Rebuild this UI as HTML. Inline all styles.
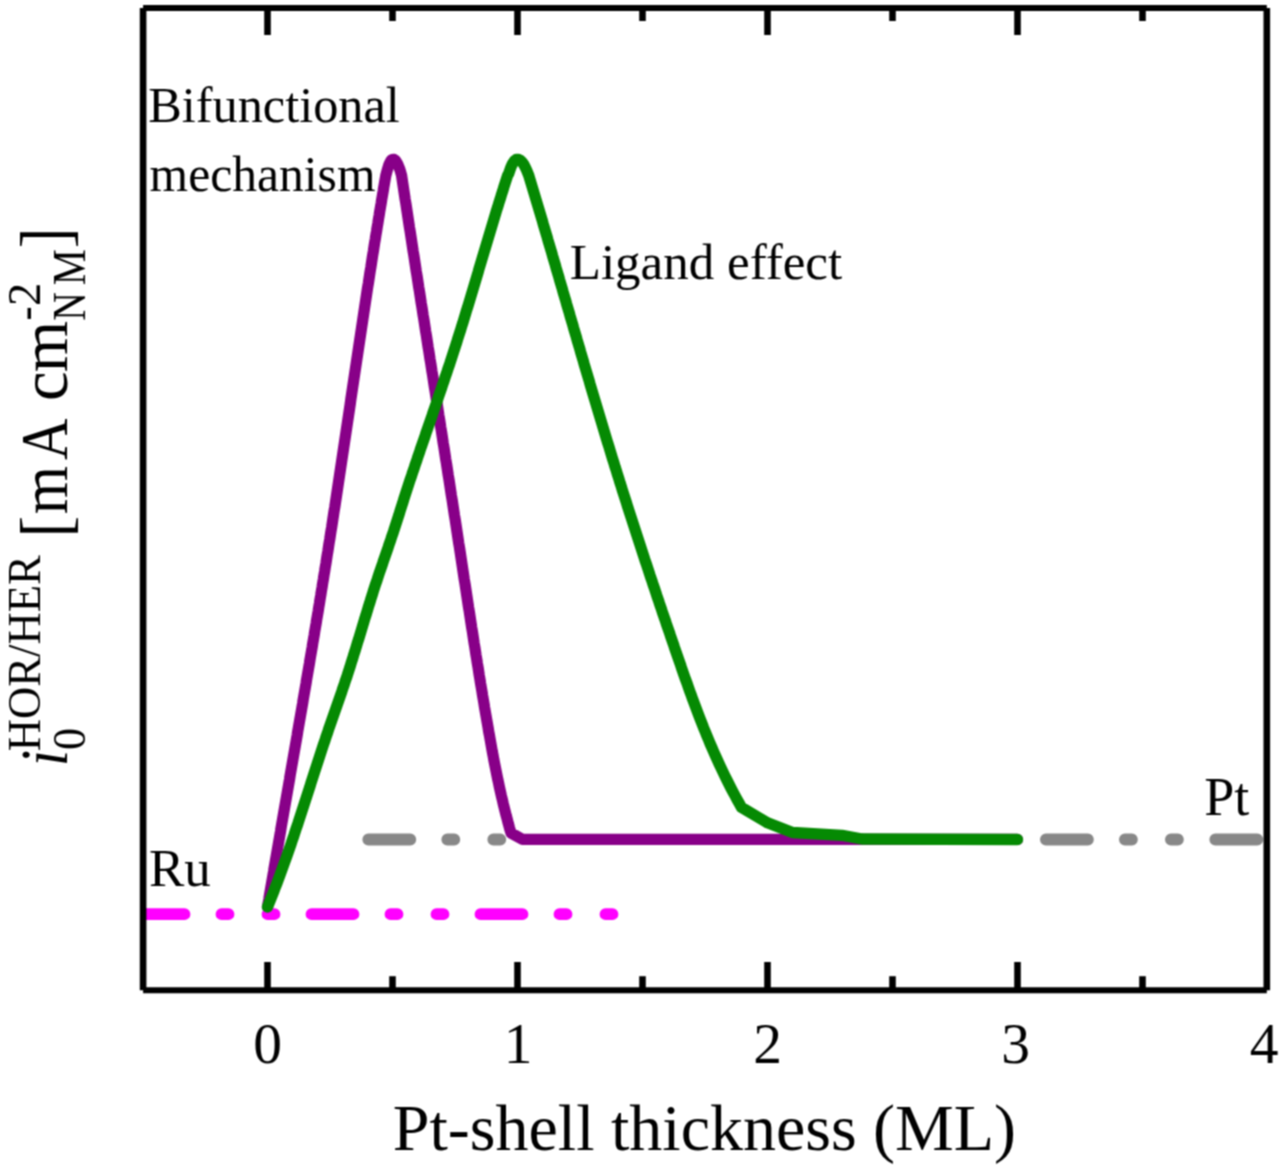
<!DOCTYPE html>
<html><head><meta charset="utf-8"><style>
html,body{margin:0;padding:0;background:#fff;}
svg{display:block;}
#w{width:1280px;height:1170px;}
text{font-family:"Liberation Serif",serif;fill:#000;}
</style></head><body><div id="w">
<svg width="1280" height="1170" viewBox="0 0 1280 1170">
<defs>
<filter id="bl" x="0" y="0" width="1280" height="1170" filterUnits="userSpaceOnUse" color-interpolation-filters="sRGB"><feConvolveMatrix order="3" kernelMatrix="1 2 1 2 4 2 1 2 1" divisor="16" edgeMode="duplicate"/></filter>
<clipPath id="pa"><rect x="143" y="8" width="1124" height="982"/></clipPath>
<clipPath id="gc"><rect x="143" y="800" width="368" height="80"/><rect x="1025" y="800" width="260" height="80"/></clipPath>
</defs>
<g filter="url(#bl)"><rect width="1280" height="1170" fill="#fff"/>
<g clip-path="url(#pa)" fill="none" stroke-width="11.3" stroke-linecap="round" stroke-linejoin="round">
<g clip-path="url(#gc)"><line x1="368.3" y1="839.5" x2="1300" y2="839.5" stroke-width="11.8" stroke="#888" stroke-dasharray="42 37 7 39 7 37.4"/></g>
<polyline points="267.5,907.0 268.1,903.6 268.8,899.6 269.4,895.6 270.1,891.6 270.8,887.6 271.5,883.6 272.2,879.6 272.9,875.6 273.6,871.6 274.2,867.6 274.9,863.6 275.6,859.6 276.3,855.6 277.0,851.6 277.7,847.6 278.4,843.6 279.1,839.6 279.8,835.6 280.5,831.6 281.1,827.6 281.8,823.6 282.5,819.6 283.2,815.6 283.9,811.6 284.6,807.6 285.3,803.6 286.0,799.6 286.7,795.6 287.4,791.6 288.1,787.6 288.8,783.6 289.5,779.6 290.1,775.6 290.8,771.6 291.5,767.6 292.2,763.6 292.9,759.6 293.6,755.6 294.3,751.6 295.0,747.6 295.7,743.6 296.4,739.6 297.1,735.6 297.7,731.6 298.4,727.6 299.1,723.6 299.8,719.6 300.5,715.6 301.2,711.6 301.9,707.6 302.6,703.6 303.2,699.6 303.9,695.6 304.6,691.6 305.3,687.6 306.0,683.6 306.6,679.6 307.3,675.6 308.0,671.6 308.7,667.6 309.4,663.6 310.0,659.6 310.7,655.6 311.4,651.6 312.1,647.6 312.7,643.6 313.4,639.6 314.1,635.6 314.7,631.6 315.4,627.6 316.1,623.6 316.7,619.6 317.4,615.6 318.1,611.6 318.7,607.6 319.4,603.6 320.0,599.6 320.7,595.6 321.3,591.6 322.0,587.6 322.6,583.6 323.3,579.6 323.9,575.6 324.6,571.6 325.2,567.6 325.9,563.6 326.5,559.6 327.1,555.6 327.8,551.6 328.4,547.6 329.0,543.6 329.7,539.6 330.3,535.6 330.9,531.6 331.6,527.6 332.2,523.6 332.8,519.6 333.4,515.6 334.0,511.6 334.7,507.6 335.3,503.6 335.9,499.6 336.5,495.6 337.1,491.6 337.7,487.6 338.3,483.6 338.9,479.6 339.5,475.6 340.1,471.6 340.7,467.6 341.3,463.6 341.9,459.6 342.5,455.6 343.1,451.6 343.7,447.6 344.3,443.6 344.9,439.6 345.5,435.6 346.1,431.6 346.7,427.6 347.3,423.6 347.9,419.6 348.5,415.6 349.1,411.6 349.7,407.6 350.3,403.6 350.8,399.6 351.4,395.6 352.0,391.6 352.6,387.6 353.2,383.6 353.8,379.6 354.4,375.6 355.0,371.6 355.6,367.6 356.2,363.6 356.8,359.6 357.4,355.6 358.0,351.6 358.6,347.6 359.2,343.6 359.8,339.6 360.4,335.6 361.0,331.6 361.6,327.6 362.2,323.6 362.8,319.6 363.4,315.6 364.0,311.6 364.6,307.6 365.2,303.6 365.8,299.6 366.4,295.6 367.0,291.6 367.6,287.6 368.3,283.6 368.9,279.6 369.5,275.6 370.1,271.6 370.8,267.6 371.4,263.6 372.0,259.6 372.6,255.6 373.3,251.6 373.9,247.6 374.5,243.6 375.2,239.6 375.8,235.6 376.5,231.6 377.1,227.6 377.8,223.6 378.4,219.6 379.1,215.6 379.7,211.6 380.4,207.6 381.1,203.6 381.7,199.6 382.4,195.6 383.1,191.6 383.7,187.6 384.4,183.6 385.1,179.6 385.8,175.6 386.3,173.8 387.2,170.3 388.1,167.3 388.9,164.8 389.8,162.8 390.6,161.3 391.3,160.3 392.1,159.6 393.1,159.3 394.3,159.6 395.2,160.3 396.1,161.3 397.0,162.8 398.0,164.8 399.0,167.3 400.1,170.3 401.1,173.8 401.6,175.6 402.2,179.6 402.8,183.6 403.4,187.6 404.0,191.6 404.6,195.6 405.2,199.6 405.9,203.6 406.5,207.6 407.1,211.6 407.7,215.6 408.3,219.6 408.9,223.6 409.5,227.6 410.2,231.6 410.8,235.6 411.4,239.6 412.0,243.6 412.6,247.6 413.2,251.6 413.9,255.6 414.5,259.6 415.1,263.6 415.7,267.6 416.3,271.6 417.0,275.6 417.6,279.6 418.2,283.6 418.8,287.6 419.5,291.6 420.1,295.6 420.7,299.6 421.3,303.6 422.0,307.6 422.6,311.6 423.2,315.6 423.9,319.6 424.5,323.6 425.1,327.6 425.7,331.6 426.4,335.6 427.0,339.6 427.6,343.6 428.2,347.6 428.9,351.6 429.5,355.6 430.1,359.6 430.8,363.6 431.4,367.6 432.0,371.6 432.7,375.6 433.3,379.6 433.9,383.6 434.5,387.6 435.2,391.6 435.8,395.6 436.4,399.6 437.1,403.6 437.7,407.6 438.3,411.6 438.9,415.6 439.6,419.6 440.2,423.6 440.8,427.6 441.5,431.6 442.1,435.6 442.7,439.6 443.3,443.6 444.0,447.6 444.6,451.6 445.2,455.6 445.8,459.6 446.5,463.6 447.1,467.6 447.7,471.6 448.3,475.6 449.0,479.6 449.6,483.6 450.2,487.6 450.8,491.6 451.4,495.6 452.1,499.6 452.7,503.6 453.3,507.6 453.9,511.6 454.5,515.6 455.2,519.6 455.8,523.6 456.4,527.6 457.0,531.6 457.6,535.6 458.2,539.6 458.8,543.6 459.5,547.6 460.1,551.6 460.7,555.6 461.3,559.6 461.9,563.6 462.5,567.6 463.1,571.6 463.7,575.6 464.3,579.6 465.0,583.6 465.6,587.6 466.2,591.6 466.8,595.6 467.4,599.6 468.0,603.6 468.6,607.6 469.3,611.6 469.9,615.6 470.5,619.6 471.1,623.6 471.7,627.6 472.4,631.6 473.0,635.6 473.6,639.6 474.2,643.6 474.9,647.6 475.5,651.6 476.1,655.6 476.8,659.6 477.4,663.6 478.1,667.6 478.7,671.6 479.3,675.6 480.0,679.6 480.6,683.6 481.3,687.6 482.0,691.6 482.6,695.6 483.3,699.6 484.0,703.6 484.6,707.6 485.3,711.6 486.0,715.6 486.7,719.6 487.4,723.6 488.1,727.6 488.7,731.6 489.5,735.6 490.2,739.6 490.9,743.6 491.6,747.6 492.3,751.6 493.1,755.6 493.8,759.6 494.6,763.6 495.4,767.6 496.2,771.6 497.0,775.6 497.8,779.6 498.7,783.6 499.5,787.6 500.4,791.6 501.3,795.6 502.3,799.6 503.2,803.6 504.2,807.6 505.2,811.6 506.2,815.6 507.3,819.6 508.3,823.6 509.4,827.6 510.6,831.6 511.0,833.0 522.5,839.4 1017.5,839.4" stroke="#880088"/>
<line x1="142.5" y1="914.2" x2="614" y2="914.2" stroke-width="11.8" stroke="#ff00ff" stroke-dasharray="42 37 7 39 7 37"/>
<polyline points="267.5,907.0 268.9,903.6 270.5,899.6 272.1,895.6 273.7,891.6 275.2,887.6 276.8,883.6 278.3,879.6 279.8,875.6 281.2,871.6 282.7,867.6 284.1,863.6 285.6,859.6 287.0,855.6 288.4,851.6 289.8,847.6 291.2,843.6 292.5,839.6 293.9,835.6 295.2,831.6 296.5,827.6 297.9,823.6 299.2,819.6 300.5,815.6 301.8,811.6 303.1,807.6 304.4,803.6 305.7,799.6 307.0,795.6 308.3,791.6 309.6,787.6 310.8,783.6 312.1,779.6 313.4,775.6 314.7,771.6 316.0,767.6 317.3,763.6 318.6,759.6 319.9,755.6 321.2,751.6 322.5,747.6 323.8,743.6 325.2,739.6 326.5,735.6 327.9,731.6 329.2,727.6 330.6,723.6 332.0,719.6 333.4,715.6 334.8,711.6 336.2,707.6 337.6,703.6 339.0,699.6 340.4,695.6 341.8,691.6 343.1,687.6 344.5,683.6 345.8,679.6 347.2,675.6 348.5,671.6 349.8,667.6 351.0,663.6 352.3,659.6 353.5,655.6 354.8,651.6 356.0,647.6 357.2,643.6 358.5,639.6 359.7,635.6 360.9,631.6 362.1,627.6 363.3,623.6 364.5,619.6 365.8,615.6 367.0,611.6 368.2,607.6 369.5,603.6 370.7,599.6 372.0,595.6 373.2,591.6 374.5,587.6 375.8,583.6 377.2,579.6 378.5,575.6 379.8,571.6 381.2,567.6 382.6,563.6 383.9,559.6 385.3,555.6 386.7,551.6 388.1,547.6 389.4,543.6 390.8,539.6 392.1,535.6 393.5,531.6 394.8,527.6 396.1,523.6 397.4,519.6 398.7,515.6 399.9,511.6 401.2,507.6 402.5,503.6 403.7,499.6 405.0,495.6 406.3,491.6 407.6,487.6 408.9,483.6 410.2,479.6 411.6,475.6 412.9,471.6 414.3,467.6 415.6,463.6 417.0,459.6 418.3,455.6 419.7,451.6 421.0,447.6 422.4,443.6 423.8,439.6 425.2,435.6 426.5,431.6 427.9,427.6 429.3,423.6 430.7,419.6 432.1,415.6 433.4,411.6 434.8,407.6 436.2,403.6 437.6,399.6 438.9,395.6 440.3,391.6 441.7,387.6 443.0,383.6 444.4,379.6 445.7,375.6 447.1,371.6 448.4,367.6 449.8,363.6 451.1,359.6 452.4,355.6 453.7,351.6 455.0,347.6 456.3,343.6 457.5,339.6 458.8,335.6 460.1,331.6 461.3,327.6 462.6,323.6 463.8,319.6 465.0,315.6 466.2,311.6 467.5,307.6 468.7,303.6 469.9,299.6 471.1,295.6 472.3,291.6 473.5,287.6 474.7,283.6 475.9,279.6 477.1,275.6 478.3,271.6 479.4,267.6 480.6,263.6 481.8,259.6 483.0,255.6 484.2,251.6 485.4,247.6 486.6,243.6 487.8,239.6 489.0,235.6 490.2,231.6 491.4,227.6 492.6,223.6 493.8,219.6 495.0,215.6 496.2,211.6 497.5,207.6 498.7,203.6 500.0,199.6 501.2,195.6 502.5,191.6 503.7,187.6 505.0,183.6 506.3,179.6 507.6,175.6 508.6,173.8 509.8,170.3 510.9,167.3 512.0,164.8 513.1,162.8 514.1,161.3 515.1,160.3 516.1,159.6 517.4,159.3 518.9,159.6 520.2,160.3 521.4,161.3 522.6,162.8 524.0,164.8 525.3,167.3 526.7,170.3 528.1,173.8 528.8,175.6 530.0,179.6 531.2,183.6 532.4,187.6 533.6,191.6 534.8,195.6 536.0,199.6 537.2,203.6 538.4,207.6 539.6,211.6 540.8,215.6 542.0,219.6 543.1,223.6 544.3,227.6 545.5,231.6 546.7,235.6 547.8,239.6 549.0,243.6 550.2,247.6 551.4,251.6 552.5,255.6 553.7,259.6 554.9,263.6 556.0,267.6 557.2,271.6 558.4,275.6 559.5,279.6 560.7,283.6 561.9,287.6 563.0,291.6 564.2,295.6 565.4,299.6 566.5,303.6 567.7,307.6 568.9,311.6 570.0,315.6 571.2,319.6 572.4,323.6 573.5,327.6 574.7,331.6 575.9,335.6 577.0,339.6 578.2,343.6 579.4,347.6 580.5,351.6 581.7,355.6 582.9,359.6 584.0,363.6 585.2,367.6 586.4,371.6 587.6,375.6 588.8,379.6 589.9,383.6 591.1,387.6 592.3,391.6 593.5,395.6 594.7,399.6 595.9,403.6 597.1,407.6 598.3,411.6 599.5,415.6 600.7,419.6 601.9,423.6 603.1,427.6 604.3,431.6 605.5,435.6 606.7,439.6 607.9,443.6 609.2,447.6 610.4,451.6 611.6,455.6 612.8,459.6 614.1,463.6 615.3,467.6 616.6,471.6 617.8,475.6 619.1,479.6 620.3,483.6 621.6,487.6 622.8,491.6 624.1,495.6 625.4,499.6 626.7,503.6 627.9,507.6 629.2,511.6 630.5,515.6 631.8,519.6 633.1,523.6 634.4,527.6 635.7,531.6 637.0,535.6 638.3,539.6 639.6,543.6 640.9,547.6 642.2,551.6 643.5,555.6 644.8,559.6 646.2,563.6 647.5,567.6 648.8,571.6 650.1,575.6 651.5,579.6 652.8,583.6 654.2,587.6 655.5,591.6 656.8,595.6 658.2,599.6 659.5,603.6 660.9,607.6 662.2,611.6 663.6,615.6 665.0,619.6 666.3,623.6 667.7,627.6 669.1,631.6 670.4,635.6 671.8,639.6 673.2,643.6 674.5,647.6 675.9,651.6 677.3,655.6 678.7,659.6 680.1,663.6 681.4,667.6 682.8,671.6 684.2,675.6 685.6,679.6 687.1,683.6 688.5,687.6 689.9,691.6 691.4,695.6 692.8,699.6 694.3,703.6 695.8,707.6 697.3,711.6 698.8,715.6 700.4,719.6 702.0,723.6 703.5,727.6 705.2,731.6 706.8,735.6 708.5,739.6 710.1,743.6 711.9,747.6 713.6,751.6 715.4,755.6 717.2,759.6 719.0,763.6 720.9,767.6 722.8,771.6 724.7,775.6 726.7,779.6 728.7,783.6 730.7,787.6 732.8,791.6 735.0,795.6 737.1,799.6 739.4,803.6 741.5,807.4 767.5,822.8 792.5,832.5 842.0,835.3 862.0,839.0 1017.5,839.5" stroke="#058a03"/>
</g>
<g stroke="#000" stroke-width="6.6" fill="none">
<line x1="267.5" y1="990" x2="267.5" y2="962"/><line x1="267.5" y1="8" x2="267.5" y2="35"/><line x1="517.5" y1="990" x2="517.5" y2="962"/><line x1="517.5" y1="8" x2="517.5" y2="35"/><line x1="767.5" y1="990" x2="767.5" y2="962"/><line x1="767.5" y1="8" x2="767.5" y2="35"/><line x1="1017.5" y1="990" x2="1017.5" y2="962"/><line x1="1017.5" y1="8" x2="1017.5" y2="35"/><line x1="392.5" y1="990" x2="392.5" y2="976.2"/><line x1="392.5" y1="8" x2="392.5" y2="21"/><line x1="642.5" y1="990" x2="642.5" y2="976.2"/><line x1="642.5" y1="8" x2="642.5" y2="21"/><line x1="892.5" y1="990" x2="892.5" y2="976.2"/><line x1="892.5" y1="8" x2="892.5" y2="21"/><line x1="1142.5" y1="990" x2="1142.5" y2="976.2"/><line x1="1142.5" y1="8" x2="1142.5" y2="21"/>
<line x1="143.1" y1="8" x2="143.1" y2="990.3"/>
<line x1="1266.8" y1="8" x2="1266.8" y2="990.3"/>
<line x1="143.1" y1="8" x2="1266.8" y2="8" stroke-width="6"/>
<line x1="143.1" y1="990.3" x2="1266.8" y2="990.3" stroke-width="6"/>
</g>
<text x="148.3" y="122.1" font-size="50.3">Bifunctional</text>
<text x="149.6" y="190.5" font-size="49.6">mechanism</text>
<text x="569.8" y="278.7" font-size="51">Ligand effect</text>
<text x="148.9" y="886.1" font-size="53">Ru</text>
<text x="1204.3" y="814.7" font-size="54">Pt</text>
<g font-size="57.5" text-anchor="middle">
<text x="267.5" y="1063">0</text>
<text x="518" y="1063">1</text>
<text x="767.5" y="1063">2</text>
<text x="1015.5" y="1063">3</text>
<text x="1264" y="1063">4</text>
</g>
<text x="392.8" y="1149.8" font-size="66">Pt-shell thickness (ML)</text>
<g transform="translate(67,763) rotate(-90)">
<text x="-3.3" y="0" font-size="67" textLength="16.4" lengthAdjust="spacingAndGlyphs" style="font-style:italic;">i</text>
<text x="12.9" y="18" font-size="46.5" textLength="22.1" lengthAdjust="spacingAndGlyphs" style="">0</text>
<text x="11.8" y="-26.8" font-size="46.7" textLength="195.9" lengthAdjust="spacingAndGlyphs" style="">HOR/HER</text>
<text x="225.6" y="2" font-size="70" textLength="21.7" lengthAdjust="spacingAndGlyphs" style="">[</text>
<text x="248.7" y="0" font-size="67" textLength="48.3" lengthAdjust="spacingAndGlyphs" style="">m</text>
<text x="302.9" y="0" font-size="67" textLength="41.5" lengthAdjust="spacingAndGlyphs" style="">A</text>
<text x="362.0" y="0" font-size="67" textLength="29.7" lengthAdjust="spacingAndGlyphs" style="">c</text>
<text x="390.7" y="0" font-size="67" textLength="51.4" lengthAdjust="spacingAndGlyphs" style="">m</text>
<text x="442.6" y="-26.8" font-size="46.5" textLength="14.1" lengthAdjust="spacingAndGlyphs" style="">-</text>
<text x="457.0" y="-26.8" font-size="46.5" textLength="23.3" lengthAdjust="spacingAndGlyphs" style="">2</text>
<text x="442.3" y="18" font-size="46.5" textLength="28.6" lengthAdjust="spacingAndGlyphs" style="">N</text>
<text x="477.8" y="18" font-size="46.5" textLength="36.1" lengthAdjust="spacingAndGlyphs" style="">M</text>
<text x="514.7" y="2" font-size="70" textLength="20.6" lengthAdjust="spacingAndGlyphs" style="">]</text>
</g>
</g></svg></div>
</body></html>
